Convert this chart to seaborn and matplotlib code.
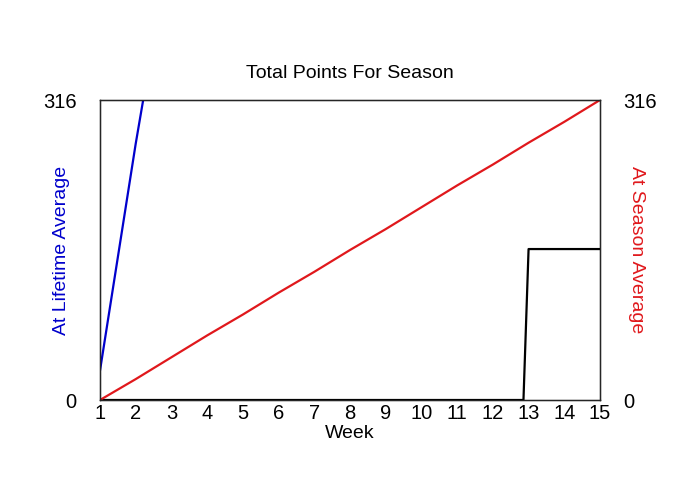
import pandas as pd
import numpy as np
import matplotlib
matplotlib.use("Agg")
import matplotlib.pyplot as plt
import seaborn as sns

# Datos
# -----------------------------------------------------------------------
weeks = [1, 2, 3, 4, 5, 6, 7, 8, 9, 10, 11, 12, 13, 14, 15]
season_avg = [0, 22, 45, 68, 90, 113, 135, 158, 180, 203, 226, 248, 271, 293, 316]

lifetime_weeks = [1, 2, 3]
lifetime_avg = [31, 270, 490]

actual_weeks = [1, 12.857, 13, 14, 15]
actual_pts = [0, 0, 159, 159, 159]

y_max = 316
blue = "#0000cc"
red = "#e0181c"

sns.set_style("white")
plt.rcParams['font.family'] = ['Liberation Sans', 'DejaVu Sans']
plt.rcParams['text.color'] = 'black'
plt.rcParams['xtick.color'] = 'black'
plt.rcParams['ytick.color'] = 'black'
plt.rcParams['axes.labelcolor'] = 'black'

fig = plt.figure(figsize=(7, 5), dpi=100)
ax = fig.add_axes([100/700, 100/500, 500/700, 300/500])

df_season = pd.DataFrame({"week": weeks, "pts": season_avg})
df_life = pd.DataFrame({"week": lifetime_weeks, "pts": lifetime_avg})
df_actual = pd.DataFrame({"week": actual_weeks, "pts": actual_pts})

sns.lineplot(data=df_actual, x="week", y="pts", color="black", linewidth=1.6, ax=ax)
sns.lineplot(data=df_season, x="week", y="pts", color=red, linewidth=1.6, ax=ax)
sns.lineplot(data=df_life, x="week", y="pts", color=blue, linewidth=1.6, ax=ax)

ax.set_xlim(1, 15)
ax.set_ylim(0, y_max)
ax.set_xticks(weeks)
ax.set_yticks([0, y_max])
ax.tick_params(axis="x", length=0, labelsize=14.5, pad=3)
ax.tick_params(axis="y", length=0, labelsize=14.5, pad=17)
ax.set_xlabel("Week", fontsize=14, labelpad=1)
ax.set_ylabel("At Lifetime Average", fontsize=14, color=blue, va="center")
ax.yaxis.set_label_coords(-0.078, 0.5)
ax.set_title("Total Points For Season", fontsize=14, pad=16)
for s in ax.spines.values():
    s.set_color("black")
    s.set_linewidth(1)

ax2 = ax.twinx()
ax2.set_ylim(0, y_max)
ax2.set_yticks([0, y_max])
ax2.tick_params(length=0, labelsize=14.5, pad=17)
ax2.set_ylabel("At Season Average", fontsize=14, color=red, rotation=270, va="center")
ax2.yaxis.set_label_coords(1.074, 0.5)

fig.savefig("out.png", dpi=100)
